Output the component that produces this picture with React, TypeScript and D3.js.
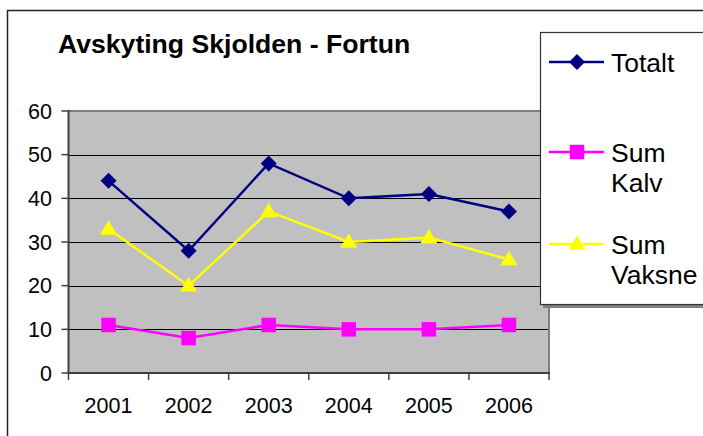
import React from "react";
import * as d3 from "d3";

const years = ["2001", "2002", "2003", "2004", "2005", "2006"];
const totalt = [44, 28, 48, 40, 41, 37];
const sumKalv = [11, 8, 11, 10, 10, 11];
const sumVaksne = [33, 20, 37, 30, 31, 26];
const yTicks = [0, 10, 20, 30, 40, 50, 60];
const title = "Avskyting Skjolden - Fortun";

const series = [
  { name: ["Totalt"], values: totalt, color: "#000080", marker: "diamond", legendY: 62 },
  { name: ["Sum", "Kalv"], values: sumKalv, color: "#FF00FF", marker: "square", legendY: 152 },
  { name: ["Sum", "Vaksne"], values: sumVaksne, color: "#FFFF00", marker: "triangle", legendY: 244 },
];

const font = "Liberation Sans, Arial, sans-serif";

function Marker({ type, x, y, color }: { type: string; x: number; y: number; color: string }) {
  if (type === "diamond") {
    const r = 8;
    return <path d={`M${x},${y - r}L${x + r},${y}L${x},${y + r}L${x - r},${y}Z`} fill={color} />;
  }
  if (type === "square") {
    const s = 14.5;
    return <rect x={x - s / 2} y={y - s / 2} width={s} height={s} fill={color} />;
  }
  const w = 8.5, h = 14.5;
  return <path d={`M${x},${y - h * 0.6}L${x + w},${y + h * 0.4}L${x - w},${y + h * 0.4}Z`} fill={color} />;
}

export default function App() {
  const left = 68.5, right = 549, top = 111, bottom = 373;
  const x = d3.scaleBand<string>().domain(years).range([left, right]).padding(0);
  const y = d3.scaleLinear().domain([0, 60]).range([bottom, top]);
  const cx = (d: string) => (x(d) as number) + x.bandwidth() / 2;
  const line = d3.line<number>().x((_, i) => cx(years[i])).y((v) => y(v));

  return (
    <svg width={703} height={436} style={{ position: "absolute", left: 0, top: 0, background: "#fff" }} fontFamily={font}>
      <rect x={0} y={0} width={703} height={436} fill="#fff" />
      {/* outer frame */}
      <path d="M7.5,436V10.5H703" fill="none" stroke="#222" strokeWidth={1.5} />
      <text x={58} y={53} fontSize={26.6} fontWeight="bold" fill="#000">{title}</text>

      {/* plot area */}
      <rect x={left} y={top} width={right - left} height={bottom - top} fill="#C0C0C0" />
      {yTicks.filter((t) => t > 0 && t < 60).map((t) => (
        <line key={t} x1={left} x2={right} y1={Math.round(y(t)) + 0.5} y2={Math.round(y(t)) + 0.5} stroke="#000" strokeWidth={1} />
      ))}
      <line x1={left} x2={right + 1} y1={top} y2={top} stroke="#808080" strokeWidth={2} />
      <line x1={right} x2={right} y1={top} y2={bottom} stroke="#808080" strokeWidth={2} />
      <line x1={left} x2={left} y1={top - 1} y2={bottom} stroke="#404040" strokeWidth={2} />
      <line x1={left - 1} x2={right + 1} y1={bottom} y2={bottom} stroke="#404040" strokeWidth={2} />
      {yTicks.map((t) => (
        <g key={t}>
          <line x1={left - 7} x2={left} y1={y(t)} y2={y(t)} stroke="#404040" strokeWidth={1.5} />
          <text x={52} y={y(t)} dy="0.36em" textAnchor="end" fontSize={21.5} fill="#000">{t}</text>
        </g>
      ))}
      {years.map((yr) => (
        <text key={yr} x={cx(yr)} y={413} textAnchor="middle" fontSize={21.5} fill="#000">{yr}</text>
      ))}
      {[...years.map((yr) => x(yr) as number), right].map((tx, i) => (
        <line key={i} x1={tx} x2={tx} y1={bottom} y2={bottom + 7} stroke="#404040" strokeWidth={1.5} />
      ))}

      {/* series */}
      {series.slice().reverse().map((s) => (
        <g key={s.name.join(" ")}>
          <path d={line(s.values) || ""} fill="none" stroke={s.color} strokeWidth={2.5} />
          {s.values.map((v, i) => (
            <Marker key={i} type={s.marker} x={cx(years[i])} y={y(v)} color={s.color} />
          ))}
        </g>
      ))}

      {/* legend */}
      <rect x={543} y={35} width={200} height={273} fill="#808080" />
      <rect x={540.5} y={32.5} width={200} height={272} fill="#fff" stroke="#333" strokeWidth={1.2} />
      {series.map((s) => (
        <g key={s.name.join(" ")}>
          <line x1={549} x2={604} y1={s.legendY} y2={s.legendY} stroke={s.color} strokeWidth={2.5} />
          <Marker type={s.marker} x={577} y={s.legendY} color={s.color} />
          {s.name.map((n, j) => (
            <text key={j} x={611} y={s.legendY + 9.5 + j * 30} fontSize={26.5} fill="#000">{n}</text>
          ))}
        </g>
      ))}
    </svg>
  );
}
